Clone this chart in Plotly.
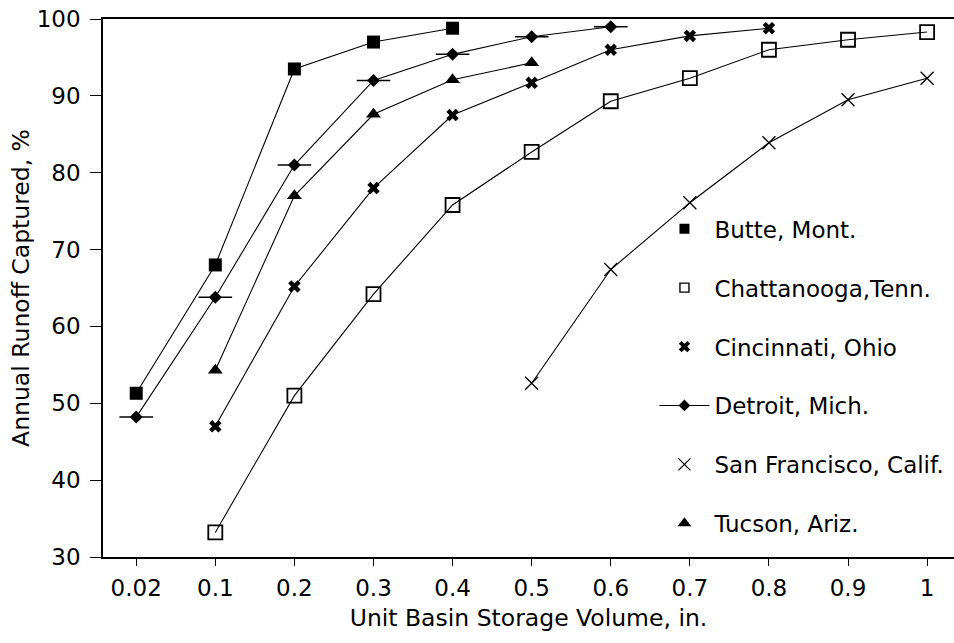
import plotly.graph_objects as go

categories = ["0.02", "0.1", "0.2", "0.3", "0.4", "0.5", "0.6", "0.7", "0.8", "0.9", "1"]

butte_x = ["0.02", "0.1", "0.2", "0.3", "0.4"]
butte_y = [51.3, 68.0, 93.5, 97.0, 98.8]

detroit_x = ["0.02", "0.1", "0.2", "0.3", "0.4", "0.5", "0.6"]
detroit_y = [48.2, 63.8, 81.0, 92.0, 95.4, 97.7, 99.0]

tucson_x = ["0.1", "0.2", "0.3", "0.4", "0.5"]
tucson_y = [54.3, 77.0, 87.6, 92.1, 94.3]

cincinnati_x = ["0.1", "0.2", "0.3", "0.4", "0.5", "0.6", "0.7", "0.8"]
cincinnati_y = [47.0, 65.2, 78.0, 87.5, 91.7, 96.0, 97.8, 98.8]

chattanooga_x = ["0.1", "0.2", "0.3", "0.4", "0.5", "0.6", "0.7", "0.8", "0.9", "1"]
chattanooga_y = [33.2, 51.0, 64.2, 75.8, 82.7, 89.3, 92.3, 96.0, 97.3, 98.3]

sf_x = ["0.5", "0.6", "0.7", "0.8", "0.9", "1"]
sf_y = [52.6, 67.4, 76.1, 83.9, 89.5, 92.3]

y_ticks = [30, 40, 50, 60, 70, 80, 90, 100]

names = ["Butte, Mont.", "Chattanooga,Tenn.", "Cincinnati, Ohio", "Detroit, Mich.",
         "San Francisco, Calif.", "Tucson, Ariz."]

FONT = "DejaVu Sans, Arial, Helvetica, sans-serif"
BLACK = "#000000"

fig = go.Figure()

line = dict(color=BLACK, width=1.1)

# data traces
fig.add_trace(go.Scatter(x=chattanooga_x, y=chattanooga_y, mode="lines+markers", line=line,
                         marker=dict(symbol="square-open", size=14, color=BLACK, line=dict(width=1.8, color=BLACK)),
                         showlegend=False))
fig.add_trace(go.Scatter(x=sf_x, y=sf_y, mode="lines+markers", line=line,
                         marker=dict(symbol="x-thin-open", size=13, color=BLACK, line=dict(width=1.3, color=BLACK)),
                         showlegend=False))
fig.add_trace(go.Scatter(x=cincinnati_x, y=cincinnati_y, mode="lines+markers", line=line,
                         marker=dict(symbol="x", size=11, color=BLACK, line=dict(width=0)),
                         showlegend=False))
fig.add_trace(go.Scatter(x=tucson_x, y=tucson_y, mode="lines+markers", line=line,
                         marker=dict(symbol="triangle-up", size=13, color=BLACK, line=dict(width=0)),
                         showlegend=False))
fig.add_trace(go.Scatter(x=detroit_x, y=detroit_y, mode="markers",
                         marker=dict(symbol="line-ew-open", size=24, color=BLACK, line=dict(width=1.5, color=BLACK)),
                         showlegend=False))
fig.add_trace(go.Scatter(x=detroit_x, y=detroit_y, mode="lines+markers", line=line,
                         marker=dict(symbol="diamond", size=10, color=BLACK, line=dict(width=0)),
                         showlegend=False))
fig.add_trace(go.Scatter(x=butte_x, y=butte_y, mode="lines+markers", line=line,
                         marker=dict(symbol="square", size=13, color=BLACK, line=dict(width=0)),
                         showlegend=False))

# legend-only entries
leg_specs = [
    (names[0], "markers", dict(symbol="square", size=10, color=BLACK, line=dict(width=0))),
    (names[1], "markers", dict(symbol="square-open", size=9, color=BLACK, line=dict(width=1.4, color=BLACK))),
    (names[2], "markers", dict(symbol="x", size=10, color=BLACK, line=dict(width=0))),
    (names[3], "lines+markers", dict(symbol="diamond", size=9, color=BLACK, line=dict(width=0))),
    (names[4], "markers", dict(symbol="x-thin-open", size=12, color=BLACK, line=dict(width=1.2, color=BLACK))),
    (names[5], "markers", dict(symbol="triangle-up", size=12, color=BLACK, line=dict(width=0))),
]
for i, (nm, md, mk) in enumerate(leg_specs):
    fig.add_trace(go.Scatter(x=[None], y=[None], mode=md, name=nm, marker=mk, line=line,
                             legendgroup=f"g{i}", showlegend=True))

fig.update_layout(
    width=954, height=643,
    margin=dict(l=103, r=0, t=19, b=86, autoexpand=False),
    paper_bgcolor="white", plot_bgcolor="white",
    font=dict(family=FONT, size=23, color=BLACK),
    legend=dict(x=0.648, y=0.65, xanchor="left", yanchor="top",
                font=dict(family=FONT, size=23, color=BLACK),
                bgcolor="rgba(0,0,0,0)", tracegroupgap=26, itemwidth=50),
    xaxis=dict(type="category", categoryorder="array", categoryarray=categories,
               range=[-0.42, 10.34], showline=True, linecolor=BLACK, linewidth=1.6,
               mirror=True, ticks="outside", ticklen=7, tickcolor=BLACK, tickwidth=1.2,
               showgrid=False, zeroline=False, ticklabelstandoff=3, automargin=False,
               tickfont=dict(family=FONT, size=23, color=BLACK),
               title=dict(text="Unit Basin Storage Volume, in.", font=dict(family=FONT, size=23.5, color=BLACK),
                          standoff=9)),
    yaxis=dict(range=[30, 100], tickvals=y_ticks, ticklabeloverflow="allow",
               showline=True, linecolor=BLACK, linewidth=1.6, mirror=False,
               ticks="outside", ticklen=11, tickcolor=BLACK, tickwidth=1.2,
               showgrid=False, zeroline=False, ticklabelstandoff=5, automargin=False,
               tickfont=dict(family=FONT, size=23, color=BLACK),
               title=dict(text="Annual Runoff Captured, %", font=dict(family=FONT, size=23.5, color=BLACK),
                          standoff=0)),
)

fig.write_html("out.html", config={"displayModeBar": False},
               post_script="document.body.style.margin='0';")
